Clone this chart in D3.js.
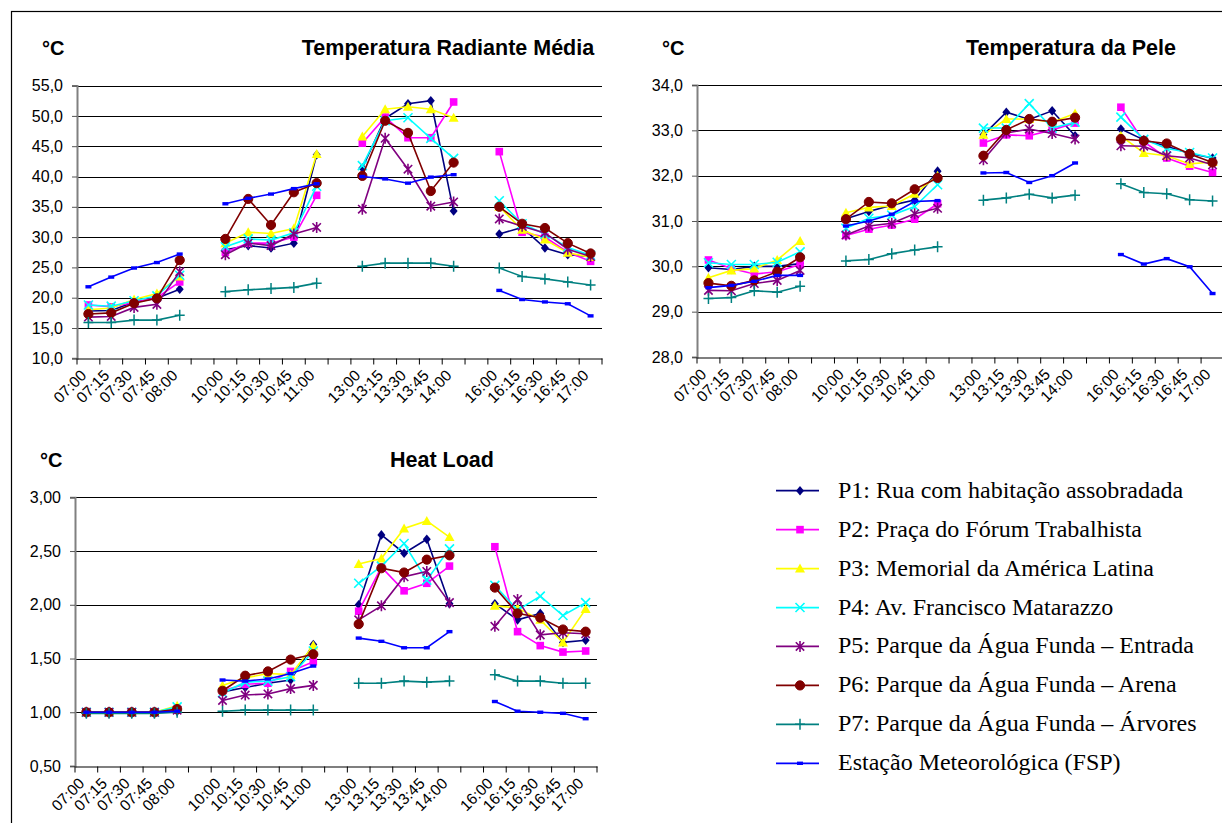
<!DOCTYPE html>
<html>
<head>
<meta charset="utf-8">
<script src="https://cdn.jsdelivr.net/npm/d3@7"></script>
<style>
  body { margin: 0; background: #fff; }
  svg { display: block; }
  .sans { font-family: "Liberation Sans", Arial, sans-serif; }
  .serif { font-family: "Liberation Serif", "Times New Roman", serif; }
</style>
</head>
<body>
<div id="chart"></div>
<script>
const width = 1222;
const height = 823;

// categories (blank slots separate the four measuring periods)
const categories = ["07:00", "07:15", "07:30", "07:45", "08:00", "",
    "10:00", "10:15", "10:30", "10:45", "11:00", "",
    "13:00", "13:15", "13:30", "13:45", "14:00", "",
    "16:00", "16:15", "16:30", "16:45", "17:00"];

const seriesNames = [
    "P1: Rua com habitação assobradada",
    "P2: Praça do Fórum Trabalhista",
    "P3: Memorial da América Latina",
    "P4: Av. Francisco Matarazzo",
    "P5: Parque da Água Funda – Entrada",
    "P6: Parque da Água Funda – Arena",
    "P7: Parque da Água Funda – Árvores",
    "Estação Meteorológica (FSP)"
];

// Temperatura Radiante Média
const trmP1 = [17.8, 17.9, 19.3, 19.9, 21.4, null, 27.9, 28.6, 28.2, 29.0, 43.6, null, 41.4, 49.6, 52.0, 52.5, 34.3, null, 30.5, 31.6, 28.2, 27.1, 26.8];
const trmP2 = [18.8, 18.5, 19.2, 20.0, 22.6, null, 27.5, 29.0, 29.0, 30.0, 36.9, null, 45.5, 49.8, 46.4, 46.4, 52.3, null, 44.1, 30.8, 30.0, 27.5, 26.0];
const trmP3 = [18.0, 18.3, 19.7, 20.7, 23.5, null, 29.0, 30.8, 30.6, 31.4, 43.7, null, 46.6, 51.1, 51.5, 51.1, 49.7, null, 35.0, 31.2, 29.6, 27.4, 26.7];
const trmP4 = [18.8, 18.6, 19.5, 20.3, 23.7, null, 28.4, 29.7, 29.5, 30.7, 38.4, null, 41.8, 49.2, 49.7, 46.3, 43.0, null, 36.0, 32.2, 30.5, 28.3, 27.0];
const trmP5 = [16.8, 16.9, 18.4, 18.9, 24.3, null, 27.1, 29.0, 28.6, 30.5, 31.6, null, 34.6, 46.3, 41.2, 35.1, 35.8, null, 33.0, 31.8, 30.7, 28.0, 26.8];
const trmP6 = [17.3, 17.5, 19.1, 19.9, 26.2, null, 29.7, 36.3, 32.0, 37.4, 38.9, null, 40.1, 49.2, 47.2, 37.6, 42.3, null, 35.0, 32.2, 31.5, 29.0, 27.3];
const trmP7 = [15.9, 15.9, 16.3, 16.3, 17.1, null, 21.0, 21.3, 21.5, 21.7, 22.4, null, 25.2, 25.7, 25.7, 25.7, 25.2, null, 24.9, 23.5, 23.1, 22.6, 22.1];
const trmFsp = [21.8, 23.4, 24.9, 25.8, 27.2, null, 35.5, 36.4, 37.1, 38.0, 38.8, null, 40.0, 39.6, 38.9, 39.9, 40.3, null, 21.2, 19.7, 19.3, 19.0, 17.0];

// Temperatura da Pele
const pelP1 = [29.97, 29.93, 30.0, 30.0, 30.06, null, 31.05, 31.21, 31.35, 31.46, 32.1, null, 32.9, 33.4, 33.24, 33.43, 32.88, null, 33.03, 32.79, 32.65, 32.49, 32.39];
const pelP2 = [30.14, 29.95, 29.83, 29.88, 30.04, null, 30.68, 30.82, 30.91, 31.04, 31.38, null, 32.72, 32.9, 32.88, 33.01, 33.16, null, 33.51, 32.75, 32.39, 32.21, 32.07];
const pelP3 = [29.75, 29.91, 29.95, 30.14, 30.56, null, 31.18, 31.3, 31.33, 31.6, 32.0, null, 32.9, 33.25, 33.25, 33.18, 33.37, null, 32.88, 32.5, 32.44, 32.26, 32.3];
const pelP4 = [30.08, 30.04, 30.04, 30.09, 30.32, null, 30.84, 31.06, 31.13, 31.32, 31.8, null, 33.05, 33.05, 33.59, 33.05, 33.18, null, 33.29, 32.8, 32.6, 32.51, 32.39];
const pelP5 = [29.47, 29.46, 29.62, 29.69, 29.91, null, 30.69, 30.89, 30.95, 31.16, 31.28, null, 32.35, 32.94, 33.03, 32.93, 32.81, null, 32.66, 32.65, 32.44, 32.39, 32.24];
const pelP6 = [29.63, 29.57, 29.69, 29.88, 30.2, null, 31.04, 31.42, 31.39, 31.7, 31.95, null, 32.44, 33.01, 33.25, 33.19, 33.28, null, 32.81, 32.77, 32.71, 32.48, 32.29];
const pelP7 = [29.29, 29.31, 29.46, 29.43, 29.56, null, 30.12, 30.15, 30.28, 30.36, 30.43, null, 31.46, 31.51, 31.59, 31.51, 31.57, null, 31.82, 31.63, 31.6, 31.47, 31.44];
const pelFsp = [29.53, 29.58, 29.67, 29.8, 29.8, null, 30.89, 31.0, 31.15, 31.43, 31.45, null, 32.06, 32.07, 31.85, 32.0, 32.28, null, 30.26, 30.05, 30.17, 29.99, 29.4];

// Heat Load
const hlP1 = [1.0, 1.0, 1.0, 1.0, 1.01, null, 1.19, 1.23, 1.27, 1.30, 1.63, null, 2.0, 2.65, 2.48, 2.61, 2.01, null, 2.01, 1.86, 1.92, 1.65, 1.67];
const hlP2 = [1.0, 1.0, 1.0, 1.0, 1.02, null, 1.2, 1.26, 1.27, 1.38, 1.47, null, 1.94, 2.35, 2.13, 2.2, 2.36, null, 2.54, 1.75, 1.62, 1.56, 1.57];
const hlP3 = [1.0, 1.0, 1.0, 1.0, 1.06, null, 1.25, 1.32, 1.36, 1.35, 1.62, null, 2.38, 2.43, 2.71, 2.78, 2.63, null, 1.99, 1.97, 1.86, 1.65, 1.96];
const hlP4 = [1.0, 1.0, 1.0, 1.0, 1.05, null, 1.18, 1.28, 1.29, 1.33, 1.57, null, 2.2, 2.36, 2.57, 2.23, 2.52, null, 2.18, 1.95, 2.08, 1.9, 2.02];
const hlP5 = [1.0, 1.0, 1.0, 1.0, 1.02, null, 1.11, 1.16, 1.17, 1.22, 1.25, null, 1.86, 1.99, 2.26, 2.31, 2.02, null, 1.8, 2.05, 1.72, 1.74, 1.73];
const hlP6 = [1.0, 1.0, 1.0, 1.0, 1.03, null, 1.2, 1.34, 1.38, 1.49, 1.54, null, 1.82, 2.34, 2.3, 2.42, 2.46, null, 2.16, 1.92, 1.88, 1.77, 1.75];
const hlP7 = [0.99, 0.99, 0.99, 0.99, 1.0, null, 1.01, 1.02, 1.02, 1.02, 1.02, null, 1.27, 1.27, 1.29, 1.28, 1.29, null, 1.35, 1.29, 1.29, 1.27, 1.27];
const hlFsp = [1.0, 1.0, 1.0, 1.0, 1.01, null, 1.3, 1.29, 1.31, 1.36, 1.43, null, 1.69, 1.66, 1.6, 1.6, 1.75, null, 1.1, 1.01, 1.0, 0.99, 0.94];

const trmTicks = [10, 15, 20, 25, 30, 35, 40, 45, 50, 55];
const pelTicks = [28, 29, 30, 31, 32, 33, 34];
const hlTicks = [0.5, 1.0, 1.5, 2.0, 2.5, 3.0];

const colors = ["#000080", "#ff00ff", "#ffff00", "#00ffff", "#800080", "#800000", "#008080", "#0000ff"];
const markers = ["diamond", "square", "triangle", "x", "star", "circle", "plus", "dash"];

const svg = d3.select("#chart")
    .append("svg")
    .attr("width", width)
    .attr("height", height);

// outer frame of the figure
svg.append("rect")
    .attr("x", 11.5).attr("y", 11.5)
    .attr("width", width).attr("height", height)
    .attr("fill", "none").attr("stroke", "#000").attr("stroke-width", 1.2);

function drawMarker(g, type, color) {
    if (type === "circle") {
        g.append("circle").attr("r", 4.6).attr("fill", color).attr("stroke", color);
    } else if (type === "diamond") {
        g.append("path").attr("d", "M0,-4.8L4,0L0,4.8L-4,0Z").attr("fill", color);
    } else if (type === "square") {
        g.append("path").attr("d", "M-3.8,-3.8h7.6v7.6h-7.6Z").attr("fill", color);
    } else if (type === "triangle") {
        g.append("path").attr("d", "M0,-5L5,4H-5Z").attr("fill", color);
    } else if (type === "x") {
        g.append("path").attr("d", "M-4.5,-4.5L4.5,4.5M-4.5,4.5L4.5,-4.5")
            .attr("stroke", color).attr("stroke-width", 1.6).attr("fill", "none");
    } else if (type === "star") {
        g.append("path").attr("d", "M-4.2,-4.2L4.2,4.2M-4.2,4.2L4.2,-4.2M0,-5.5V5.5")
            .attr("stroke", color).attr("stroke-width", 1.6).attr("fill", "none");
    } else if (type === "plus") {
        g.append("path").attr("d", "M-5,0H5M0,-5.5V5.5")
            .attr("stroke", color).attr("stroke-width", 1.5).attr("fill", "none");
    } else {
        g.append("path").attr("d", "M-3,-1.7h6v3.4h-6Z").attr("fill", color);
    }
}

function drawPanel(cfg) {
    const g = svg.append("g").attr("class", "sans");

    const x = d3.scaleBand()
        .domain(d3.range(categories.length))
        .range([cfg.x0, cfg.x1]);

    const y = d3.scaleLinear()
        .domain([cfg.ticks[0], cfg.ticks[cfg.ticks.length - 1]])
        .range([cfg.y1, cfg.y0]);

    // gridlines
    g.append("g").selectAll("line")
        .data(cfg.ticks.slice(1))
        .enter().append("line")
        .attr("x1", cfg.x0).attr("x2", cfg.x1)
        .attr("y1", d => Math.round(y(d)) + 0.5)
        .attr("y2", d => Math.round(y(d)) + 0.5)
        .attr("stroke", "#000").attr("stroke-width", 1);

    // y axis
    const yAxis = g.append("g")
        .attr("transform", `translate(${cfg.x0},0)`)
        .call(d3.axisLeft(y)
            .tickValues(cfg.ticks)
            .tickSize(5)
            .tickPadding(9)
            .tickFormat(d => d3.format(cfg.fmt)(d).replace(".", ",")));
    yAxis.select(".domain").attr("stroke", "#808080").attr("stroke-width", 2);
    yAxis.selectAll(".tick line").attr("stroke", "#555");
    yAxis.selectAll("text")
        .attr("font-size", 16).attr("fill", "#000")
        .style("font-family", "'Liberation Sans', Arial, sans-serif");

    // x axis: labels at category centres, tick marks between categories
    const xAxis = g.append("g")
        .attr("transform", `translate(0,${Math.round(cfg.y1) + 0.5})`)
        .call(d3.axisBottom(x)
            .tickSize(0)
            .tickFormat(i => categories[i]));
    xAxis.select(".domain").attr("stroke", "#000").attr("stroke-width", 1.2);
    xAxis.selectAll("text")
        .attr("font-size", 15.5).attr("fill", "#000")
        .style("font-family", "'Liberation Sans', Arial, sans-serif")
        .attr("text-anchor", "end")
        .attr("y", 0).attr("dy", null)
        .attr("transform", "translate(-1,18) rotate(-45)");
    xAxis.append("g").selectAll("line")
        .data(d3.range(categories.length + 1))
        .enter().append("line")
        .attr("x1", i => i < categories.length ? x(i) : cfg.x1)
        .attr("x2", i => i < categories.length ? x(i) : cfg.x1)
        .attr("y1", 0).attr("y2", 6)
        .attr("stroke", "#000");

    // series lines and markers
    const line = d3.line()
        .defined(d => d.v !== null)
        .x(d => x(d.i) + x.bandwidth() / 2)
        .y(d => y(d.v));

    cfg.series.forEach((values, k) => {
        const pts = values.map((v, i) => ({ i: i, v: v }));
        g.append("path")
            .datum(pts)
            .attr("d", line)
            .attr("fill", "none")
            .attr("stroke", colors[k])
            .attr("stroke-width", 1.6);

        pts.filter(d => d.v !== null).forEach(d => {
            const m = g.append("g")
                .attr("transform", `translate(${x(d.i) + x.bandwidth() / 2},${y(d.v)})`);
            drawMarker(m, markers[k], colors[k]);
        });
    });

    // titles
    g.append("text")
        .attr("x", cfg.unitX).attr("y", cfg.titleY)
        .attr("font-size", 20).attr("font-weight", "bold")
        .text("°C");
    g.append("text")
        .attr("x", cfg.titleX).attr("y", cfg.titleY)
        .attr("text-anchor", "middle")
        .attr("font-size", 21.5).attr("font-weight", "bold")
        .text(cfg.title);
}

drawPanel({
    title: "Temperatura Radiante Média", titleX: 448, titleY: 55, unitX: 42,
    x0: 77, x1: 602, y0: 85.6, y1: 358.3,
    ticks: trmTicks, fmt: ".1f",
    series: [trmP1, trmP2, trmP3, trmP4, trmP5, trmP6, trmP7, trmFsp]
});

drawPanel({
    title: "Temperatura da Pele", titleX: 1071, titleY: 55, unitX: 662,
    x0: 697, x1: 1224, y0: 85, y1: 357,
    ticks: pelTicks, fmt: ".1f",
    series: [pelP1, pelP2, pelP3, pelP4, pelP5, pelP6, pelP7, pelFsp]
});

drawPanel({
    title: "Heat Load", titleX: 442, titleY: 467, unitX: 40,
    x0: 75, x1: 597, y0: 497.3, y1: 766,
    ticks: hlTicks, fmt: ".2f",
    series: [hlP1, hlP2, hlP3, hlP4, hlP5, hlP6, hlP7, hlFsp]
});

// legend
const legend = svg.append("g").attr("class", "serif");
const rowY = d3.scalePoint().domain(d3.range(seriesNames.length)).range([490.7, 763.3]);

seriesNames.forEach((name, k) => {
    const row = legend.append("g").attr("transform", `translate(0,${rowY(k)})`);
    row.append("line")
        .attr("x1", 776).attr("x2", 819)
        .attr("stroke", colors[k]).attr("stroke-width", 1.8);
    const m = row.append("g").attr("transform", "translate(800,0)");
    drawMarker(m, markers[k], colors[k]);
    row.append("text")
        .attr("x", 838).attr("y", 7)
        .attr("font-size", 24)
        .text(name);
});
</script>
</body>
</html>
